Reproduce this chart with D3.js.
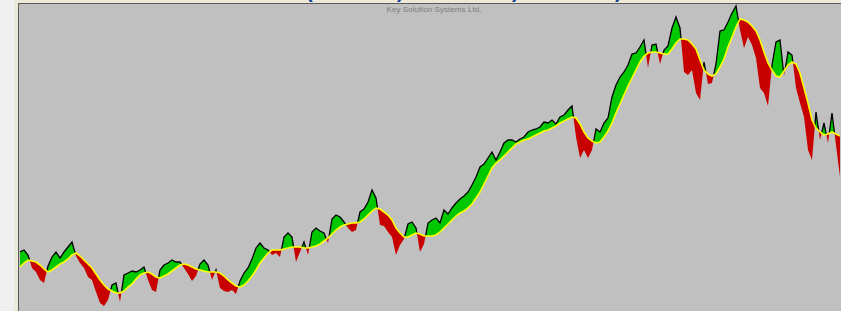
<!DOCTYPE html>
<html lang="en">
<head>
<meta charset="utf-8">
<title>Key Solution Systems Ltd.</title>
<script src="https://d3js.org/d3.v7.min.js"></script>
<style>
  body { margin: 0; background: #f0f0f0; }
  svg { display: block; }
</style>
</head>
<body>
<script>

//Width and height
var w = 841;
var h = 311;

//Closing price, one value per period
var price = [68,70,65,52,48,40,37,54,63,68,62,68,73,78,64,57,52,43,40,28,
  17,14,20,35,37,18,45,47,49,48,50,53,40,30,28,50,55,57,60,58,
  58,52,46,39,44,56,60,55,40,50,32,29,28,30,26,39,47,52,61,72,
  77,72,70,65,67,63,83,87,83,58,68,78,65,88,92,89,87,77,101,105,
  103,98,92,88,90,108,111,118,130,122,95,94,88,83,65,75,81,96,98,92,
  68,76,97,100,102,97,110,106,112,117,121,124,128,135,143,153,156,162,168,160,
  168,177,180,180,178,181,183,188,190,191,193,198,197,200,196,203,205,210,214,183,
  162,170,162,170,191,188,197,202,223,235,243,248,255,266,267,273,280,252,275,276,
  256,270,274,292,303,292,248,245,250,227,220,258,236,237,256,289,290,298,307,314,
  290,272,283,275,262,232,227,214,255,278,280,244,268,265,232,217,203,170,160,208,
  180,197,177,207,175,143];

//Moving average of the price
var average = [53,57,60,59,58,55,51,48,50,53,56,58,61,65,67,64,60,56,52,46,
  40,35,31,29,27,27,29,33,36,41,45,47,48,46,43,42,44,46,49,52,
  55,56,55,53,51,50,49,48,48,48,47,44,40,37,34,33,35,39,44,50,
  57,62,67,70,70,70,71,72,73,73,73,72,72,73,74,76,79,82,86,90,
  93,95,96,97,97,98,101,105,109,112,111,108,105,100,92,87,83,83,85,87,
  86,84,84,84,85,88,92,96,100,104,107,109,112,116,122,128,136,144,152,157,
  160,164,168,172,176,178,180,181,183,185,187,189,190,192,194,197,199,201,203,202,
  196,188,182,179,177,178,183,189,197,207,216,225,234,242,250,258,264,267,268,268,
  267,266,266,271,277,281,281,280,276,271,260,250,246,244,246,253,261,273,283,293,
  301,300,298,294,289,280,268,257,250,244,243,249,255,258,256,247,232,217,200,192,
  188,185,186,188,186,184];

var titleMarks = ["(", ")", ")", ")"];
var titleX = [306, 397, 512, 615];
var subtitle = "Key Solution Systems Ltd.";

//Create SVG element
var svg = d3.select("body")
  .append("svg")
  .attr("width", w)
  .attr("height", h);

//window frame
svg.append("rect").attr("x", 14).attr("y", 0).attr("width", w - 14).attr("height", h).attr("fill", "#ece9d8");
svg.append("rect").attr("x", 18).attr("y", 3).attr("width", w - 18).attr("height", h - 3).attr("fill", "#5a5a5a");
svg.append("rect").attr("x", 19).attr("y", 4).attr("width", w - 19).attr("height", h - 4).attr("fill", "#c0c0c0");

//scales
var x = d3.scaleLinear()
  .domain([0, price.length - 1])
  .range([20, 840]);

var y = d3.scaleLinear()
  .domain([0, 316])
  .range([320, 4]);

var defs = svg.append("defs");

defs.append("clipPath").attr("id", "plot")
  .append("rect").attr("x", 19).attr("y", 4).attr("width", w - 19).attr("height", h - 4);

//region above the average
defs.append("clipPath").attr("id", "above")
  .append("path")
  .datum(average)
  .attr("d", d3.area()
    .x(function(d, i) { return x(i); })
    .y0(0)
    .y1(function(d) { return y(d); }));

//region below the average
defs.append("clipPath").attr("id", "below")
  .append("path")
  .datum(average)
  .attr("d", d3.area()
    .x(function(d, i) { return x(i); })
    .y0(h + 20)
    .y1(function(d) { return y(d); }));

var band = d3.area()
  .x(function(d, i) { return x(i); })
  .y0(function(d, i) { return y(average[i]); })
  .y1(function(d) { return y(d); });

var line = d3.line()
  .x(function(d, i) { return x(i); })
  .y(function(d) { return y(d); });

var g = svg.append("g").attr("clip-path", "url(#plot)");

g.append("path")
  .datum(price)
  .attr("clip-path", "url(#below)")
  .attr("fill", "#c80000")
  .attr("d", band);

g.append("path")
  .datum(price)
  .attr("clip-path", "url(#above)")
  .attr("fill", "#00c800")
  .attr("d", band);

g.append("path")
  .datum(price)
  .attr("clip-path", "url(#above)")
  .attr("fill", "none")
  .attr("stroke", "#000")
  .attr("stroke-width", 1.3)
  .attr("d", line);

g.append("path")
  .datum(average)
  .attr("fill", "none")
  .attr("stroke", "#ffff00")
  .attr("stroke-width", 1.6)
  .attr("d", line);

//title (cut off at the top of the window)
svg.selectAll(".title")
  .data(titleMarks)
  .enter()
  .append("text")
  .attr("class", "title")
  .attr("x", function(d, i) { return titleX[i]; })
  .attr("y", -2)
  .attr("font-family", "Liberation Sans, Arial, sans-serif")
  .attr("font-size", 20)
  .attr("font-weight", "bold")
  .attr("fill", "#0a3c96")
  .text(function(d) { return d; });

svg.append("text")
  .attr("x", 434)
  .attr("y", 12)
  .attr("text-anchor", "middle")
  .attr("font-family", "Liberation Sans, Arial, sans-serif")
  .attr("font-size", 8)
  .attr("textLength", 95)
  .attr("fill", "#7c7c7c")
  .text(subtitle);

</script>
</body>
</html>
